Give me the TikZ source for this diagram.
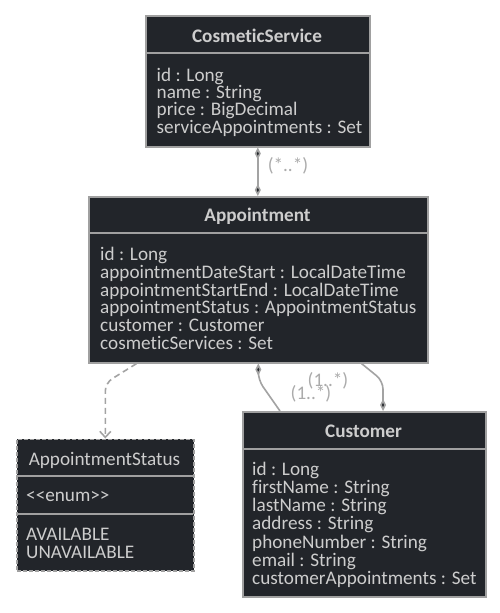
\documentclass[tikz,border=0pt]{standalone}
\usepackage{fontspec}
\setmainfont{Carlito}[Ligatures={TeX,NoCommon}]
\usetikzlibrary{arrows.meta, positioning, calc}
\definecolor{boxfill}{HTML}{22252A}
\definecolor{boxline}{HTML}{A0A0A0}
\definecolor{boxtext}{HTML}{CDCDCD}
\definecolor{linkline}{HTML}{A3A3A3}
\definecolor{linktext}{HTML}{ABABAB}

\tikzset{
  classbox/.style={draw=boxline, fill=boxfill, line width=1.6pt, inner sep=0, anchor=north west},
  sep/.style={draw=boxline, line width=1.6pt},
  attr/.style={anchor=base west, inner sep=0, text=boxtext, font=\fontsize{19.2}{20}\selectfont},
  title/.style={anchor=base, inner sep=0, text=boxtext, font=\fontsize{19.2}{20}\selectfont\bfseries},
  link/.style={draw=linkline, line width=1.6pt, rounded corners=8pt},
  mult/.style={text=linktext, inner sep=0, font=\fontsize{19.2}{20}\selectfont},
  dia/.tip={Diamond[length=12pt, width=6pt, fill=boxfill]}
}

\begin{document}
\begin{tikzpicture}[x=1pt,y=-1pt]
\useasboundingbox[fill=white] (0,0) rectangle (500,613);

% CosmeticService
\node[classbox, minimum width=224, minimum height=131] (cs) at (145,15) {};
\draw[sep] (145,52.7) -- (369,52.7);
\node[title] (cs-t) at (257,42) {CosmeticService};
\foreach \txt [count=\i] in {id : Long, name : String, price : BigDecimal, serviceAppointments : Set}
  \node[attr] (cs-\i) at (156.5,{81+17.4*(\i-1)}) {\txt};

% Appointment
\node[classbox, minimum width=339, minimum height=166] (app) at (88,196) {};
\draw[sep] (88,232.7) -- (427,232.7);
\node[title] (app-t) at (257.5,221.7) {Appointment};
\foreach \txt [count=\i] in {id : Long, appointmentDateStart : LocalDateTime, appointmentStartEnd : LocalDateTime,
    appointmentStatus : AppointmentStatus, customer : Customer, cosmeticServices : Set}
  \node[attr] (app-\i) at (100,{260.5+17.8*(\i-1)}) {\txt};

% AppointmentStatus
\node[classbox, dashed, dash pattern=on 4pt off 2pt, minimum width=177, minimum height=131.5] (st) at (16,438.5) {};
\draw[sep] (16,476) -- (193,476);
\draw[sep] (16,514) -- (193,514);
\node[title, font=\fontsize{19.2}{20}\selectfont] (st-t) at (104.5,465) {AppointmentStatus};
\node[attr] (st-s) at (26,501.7) {{<}{<}enum{>}{>}};
\node[attr] (st-1) at (26,540) {AVAILABLE};
\node[attr] (st-2) at (26,558.5) {UNAVAILABLE};

% Customer
\node[classbox, minimum width=243, minimum height=185] (cu) at (242,411) {};
\draw[sep] (242,449) -- (485,449);
\node[title] (cu-t) at (363.5,437.3) {Customer};
\foreach \txt [count=\i] in {id : Long, firstName : String, lastName : String, address : String,
    phoneNumber : String, email : String, customerAppointments : Set}
  \node[attr] (cu-\i) at (252,{475+18.3*(\i-1)}) {\txt};

% links
\draw[link, dia-dia] (cs.south) -- (cs.south |- app.north);
\node[mult] (m-cs) at (288,166) {(*..*)};

\draw[link, dashed, dash pattern=on 6pt off 4pt, -{Straight Barb[length=6pt, width=11pt]}]
  ($(app.south west)+(48.5,0)$) -- (st.north |- 0,383) -- (st.north);

\draw[link, dia-] (app.south) -- (app.south |- 0,380) -- ($(cu.north west)+(38,0)$);
\draw[link, -dia] ($(app.south east)+(-67,0)$) -- ($(cu.north west)+(141,-30)$) -- ($(cu.north west)+(141,0)$);
\node[mult] (m-a) at (328,381) {(1..*)};
\node[mult] (m-b) at (311,394) {(1..*)};
\end{tikzpicture}
\end{document}
